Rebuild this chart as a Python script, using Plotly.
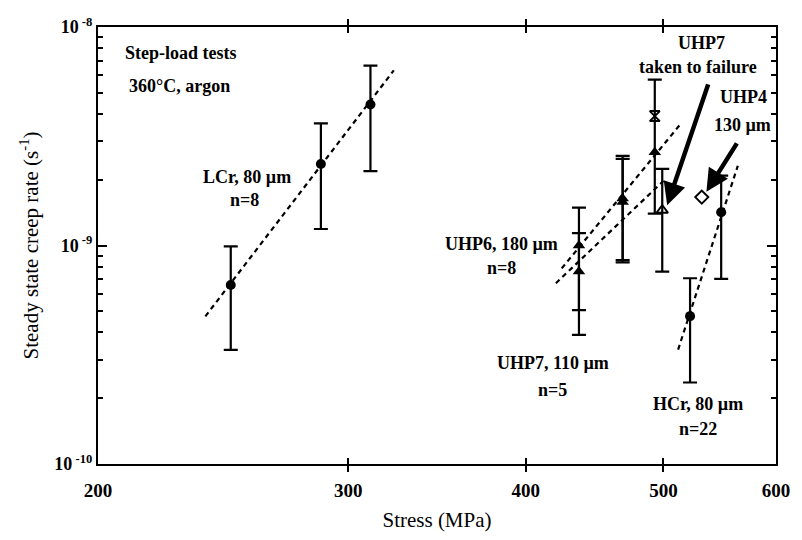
import math
import plotly.graph_objects as go

# ---- data: stress (MPa), steady-state creep rate (1/s), error-bar limits ----
lcr_stress = [248, 287, 311]
lcr_rate = [6.6e-10, 2.36e-9, 4.42e-9]
lcr_hi = [9.9e-10, 3.62e-9, 6.65e-9]
lcr_lo = [3.33e-10, 1.19e-9, 2.19e-9]

uhp6_stress = [436, 468, 493]
uhp6_rate = [1.0e-9, 1.64e-9, 2.67e-9]
uhp6_hi = [1.49e-9, 2.57e-9, 5.74e-9]
uhp6_lo = [5.06e-10, 8.57e-10, 1.40e-9]

uhp6_top_stress = [493]
uhp6_top_rate = [3.91e-9]

uhp7_stress = [436, 468]
uhp7_rate = [7.6e-10, 1.58e-9]
uhp7_hi = [1.14e-9, 2.49e-9]
uhp7_lo = [3.9e-10, 8.37e-10]

uhp7_fail_stress = [499]
uhp7_fail_rate = [1.45e-9]
uhp7_fail_hi = [2.24e-9]
uhp7_fail_lo = [7.6e-10]

uhp4_stress = [532]
uhp4_rate = [1.665e-9]

hcr_stress = [522, 549]
hcr_rate = [4.75e-10, 1.42e-9]
hcr_hi = [7.08e-10, 2.09e-9]
hcr_lo = [2.36e-10, 7.03e-10]

# power-law fit lines (end points)
fit_lcr_stress = [238, 323]
fit_lcr_rate = [4.74e-10, 6.33e-9]
fit_uhp6_stress = [424, 515]
fit_uhp6_rate = [7.86e-10, 3.65e-9]
fit_uhp7_stress = [420, 500]
fit_uhp7_rate = [6.72e-10, 1.975e-9]
fit_hcr_stress = [512, 564]
fit_hcr_rate = [3.34e-10, 2.317e-9]

x_tick_vals = [200, 300, 400, 500, 600]
y_tick_vals = [1e-10, 1e-9, 1e-8]
y_tick_text = ["10<sup> -10</sup>", "10<sup> -9</sup>", "10<sup> -8</sup>"]
y_minor_vals = [m * 10 ** e for e in (-10, -9) for m in range(2, 10)]

FONT = "Liberation Serif"
BLACK = "#000000"

fig = go.Figure()


def err(y, hi, lo):
    return dict(type="data", symmetric=False,
                array=[h - v for h, v in zip(hi, y)],
                arrayminus=[v - l for v, l in zip(y, lo)],
                color=BLACK, thickness=2.2, width=7)


def add_fit(xs, ys):
    fig.add_trace(go.Scatter(x=xs, y=ys, mode="lines",
                             line=dict(color=BLACK, width=2.2, dash="5px,4px"),
                             hoverinfo="skip"))


for xs, ys in [(fit_lcr_stress, fit_lcr_rate), (fit_uhp6_stress, fit_uhp6_rate),
               (fit_uhp7_stress, fit_uhp7_rate), (fit_hcr_stress, fit_hcr_rate)]:
    add_fit(xs, ys)

fig.add_trace(go.Scatter(x=lcr_stress, y=lcr_rate, mode="markers",
                         marker=dict(symbol="circle", size=10, color=BLACK),
                         error_y=err(lcr_rate, lcr_hi, lcr_lo)))
fig.add_trace(go.Scatter(x=hcr_stress, y=hcr_rate, mode="markers",
                         marker=dict(symbol="circle", size=10, color=BLACK),
                         error_y=err(hcr_rate, hcr_hi, hcr_lo)))
fig.add_trace(go.Scatter(x=uhp6_stress, y=uhp6_rate, mode="markers",
                         marker=dict(symbol="triangle-up", size=11, color=BLACK),
                         error_y=err(uhp6_rate, uhp6_hi, uhp6_lo)))
fig.add_trace(go.Scatter(x=uhp7_stress, y=uhp7_rate, mode="markers",
                         marker=dict(symbol="triangle-up", size=11, color=BLACK),
                         error_y=err(uhp7_rate, uhp7_hi, uhp7_lo)))
fig.add_trace(go.Scatter(x=uhp7_fail_stress, y=uhp7_fail_rate, mode="markers",
                         marker=dict(symbol="triangle-up-open", size=10, color=BLACK,
                                     line=dict(width=2)),
                         error_y=err(uhp7_fail_rate, uhp7_fail_hi, uhp7_fail_lo)))
fig.add_trace(go.Scatter(x=uhp6_top_stress, y=uhp6_top_rate, mode="markers",
                         marker=dict(symbol="hourglass-open", size=10, color=BLACK,
                                     line=dict(width=2))))
fig.add_trace(go.Scatter(x=uhp4_stress, y=uhp4_rate, mode="markers",
                         marker=dict(symbol="diamond-open", size=10, color=BLACK,
                                     line=dict(width=2))))

# empty trace that carries the overlay axis used for the minor ticks
fig.add_trace(go.Scatter(x=[300], y=[1e-9], yaxis="y2", mode="markers",
                         marker=dict(opacity=0), hoverinfo="skip"))

# plot frame in pixels: x 98..782, y 27..467
L, R, T, B = 98, 782, 27, 467


def paper(px, py):
    return (px - L) / (R - L), (B - py) / (B - T)


labels = [
    ("Step-load tests", 123, 53, "left"),
    ("360°C, argon", 127, 86, "left"),
    ("LCr, 80 µm", 248, 178, "center"),
    ("n=8", 246, 201, "center"),
    ("UHP6, 180 µm", 505, 245, "center"),
    ("n=8", 505, 270, "center"),
    ("UHP7, 110 µm", 557, 365, "center"),
    ("n=5", 557, 392, "center"),
    ("HCr, 80 µm", 703, 407, "center"),
    ("n=22", 703, 432, "center"),
    ("UHP7", 707, 43, "center"),
    ("taken to failure", 703, 67, "center"),
    ("UHP4", 749, 97, "center"),
    ("130 µm", 748, 126, "center"),
]
for text, px, py, anchor in labels:
    xp, yp = paper(px, py)
    fig.add_annotation(text="<b>%s</b>" % text, x=xp, y=yp, xref="paper", yref="paper",
                       xanchor=anchor, yanchor="middle", showarrow=False,
                       font=dict(family=FONT, size=18, color=BLACK))

# pointer arrows (stress, rate) tail -> head
arrows = [((538, 5.55e-9), (503, 1.53e-9)),
          ((564, 2.98e-9), (536, 1.76e-9))]
for (tx, ty), (hx, hy) in arrows:
    fig.add_annotation(x=math.log10(hx), y=math.log10(hy),
                       ax=math.log10(tx), ay=math.log10(ty),
                       xref="x", yref="y", axref="x", ayref="y",
                       text="", showarrow=True, arrowhead=2, arrowsize=1.0,
                       arrowwidth=4.5, arrowcolor=BLACK)

axis_common = dict(showline=True, linecolor=BLACK, linewidth=2.2, mirror="allticks",
                   ticks="inside", tickcolor=BLACK, tickwidth=2.2, showgrid=False,
                   zeroline=False)

fig.update_layout(
    xaxis=dict(type="log", range=[math.log10(200), math.log10(600)],
               tickvals=x_tick_vals, ticktext=["<b>%d</b>" % v for v in x_tick_vals],
               ticklen=6, ticklabelstandoff=8,
               tickfont=dict(family=FONT, size=19, color=BLACK),
               title=dict(text="Stress (MPa)", font=dict(family=FONT, size=21, color=BLACK),
                          standoff=12),
               **axis_common),
    yaxis=dict(type="log", range=[-10, -8],
               tickvals=y_tick_vals, ticktext=["<b>%s</b>" % t for t in y_tick_text],
               ticklen=9,
               tickfont=dict(family=FONT, size=18, color=BLACK),
               title=dict(text="Steady state creep rate (s<sup>-1</sup>)",
                          font=dict(family=FONT, size=21, color=BLACK), standoff=10),
               **axis_common),
    yaxis2=dict(type="log", range=[-10, -8], overlaying="y", side="left",
                tickvals=y_minor_vals, showticklabels=False, ticklen=5,
                showline=True, linecolor=BLACK, linewidth=2.2,
                mirror="allticks", ticks="inside", tickcolor=BLACK,
                tickwidth=2, showgrid=False, zeroline=False),
    width=802, height=540, showlegend=False,
    margin=dict(l=L, r=802 - R, t=T, b=540 - B),
    paper_bgcolor="white", plot_bgcolor="white",
)

fig.write_html("out.html")
